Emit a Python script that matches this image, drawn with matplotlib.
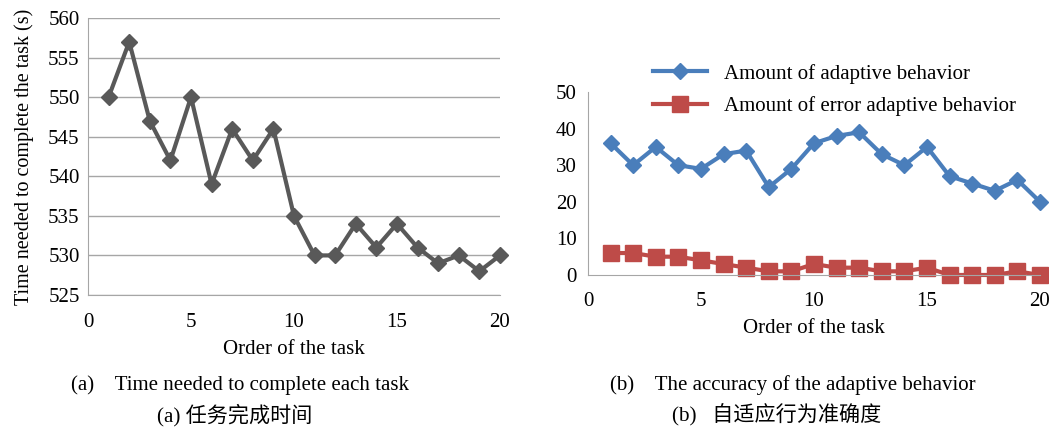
import matplotlib.pyplot as plt

plt.rcParams['font.family'] = ['Liberation Serif', 'Noto Sans CJK SC']

tasks = list(range(1, 21))
time_needed = [550, 557, 547, 542, 550, 539, 546, 542, 546, 535,
               530, 530, 534, 531, 534, 531, 529, 530, 528, 530]
adaptive = [36, 30, 35, 30, 29, 33, 34, 24, 29, 36,
            38, 39, 33, 30, 35, 27, 25, 23, 26, 20]
error_adaptive = [6, 6, 5, 5, 4, 3, 2, 1, 1, 3,
                  2, 2, 1, 1, 2, 0, 0, 0, 1, 0]

fig = plt.figure(figsize=(10.49, 4.30), dpi=100)

# (a) time per task
ax1 = fig.add_axes([0.0839, 0.314, 0.3927, 0.644])
ax1.plot(tasks, time_needed, color="#595959", lw=3, marker="D", ms=8, clip_on=False)
ax1.set_xlim(0, 20)
ax1.set_ylim(525, 560)
ax1.set_xticks([0, 5, 10, 15, 20])
ax1.set_yticks(range(525, 561, 5))
ax1.yaxis.grid(True, color="#a6a6a6", lw=1)
ax1.set_axisbelow(True)
for s in ["top", "right"]:
    ax1.spines[s].set_visible(False)
for s in ["left", "bottom"]:
    ax1.spines[s].set_color("#a6a6a6")
ax1.tick_params(length=0, labelsize=15)
ax1.tick_params(axis="x", pad=13)
ax1.tick_params(axis="y", pad=6)
ax1.set_xlabel("Order of the task", fontsize=15, labelpad=6)
ax1.set_ylabel("Time needed to complete the task (s)", fontsize=14.5, labelpad=10)

# (b) adaptive behaviour
ax2 = fig.add_axes([0.5605, 0.3605, 0.4309, 0.4255])
ax2.plot(tasks, adaptive, color="#4a7ebb", lw=3, marker="D", ms=8,
         label="Amount of adaptive behavior", clip_on=False)
ax2.plot(tasks, error_adaptive, color="#be4b48", lw=3, marker="s", ms=11,
         label="Amount of error adaptive behavior", clip_on=False)
ax2.set_xlim(0, 20)
ax2.set_ylim(0, 50)
ax2.set_xticks([0, 5, 10, 15, 20])
ax2.set_yticks(range(0, 51, 10))
for s in ["top", "right"]:
    ax2.spines[s].set_visible(False)
for s in ["left", "bottom"]:
    ax2.spines[s].set_color("#a6a6a6")
ax2.tick_params(length=0, labelsize=15)
ax2.tick_params(axis="x", pad=12)
ax2.tick_params(axis="y", pad=8)
ax2.set_xlabel("Order of the task", fontsize=15, labelpad=6)
ax2.legend(loc="upper left", bbox_to_anchor=(0.125, 1.2), frameon=False,
           fontsize=15, handlelength=2.6, labelspacing=0.6, borderaxespad=0)

# captions
fig.text(0.229, 1 - 385 / 430, "(a)    Time needed to complete each task",
         ha="center", va="center", fontsize=15)
fig.text(0.2236, 1 - 415 / 430, "(a) 任务完成时间", ha="center", va="center", fontsize=15.2)
fig.text(0.756, 1 - 385 / 430, "(b)    The accuracy of the adaptive behavior",
         ha="center", va="center", fontsize=15)
fig.text(0.740, 1 - 415 / 430, "(b)   自适应行为准确度", ha="center", va="center", fontsize=15.2)

fig.savefig("out.png", dpi=100)
